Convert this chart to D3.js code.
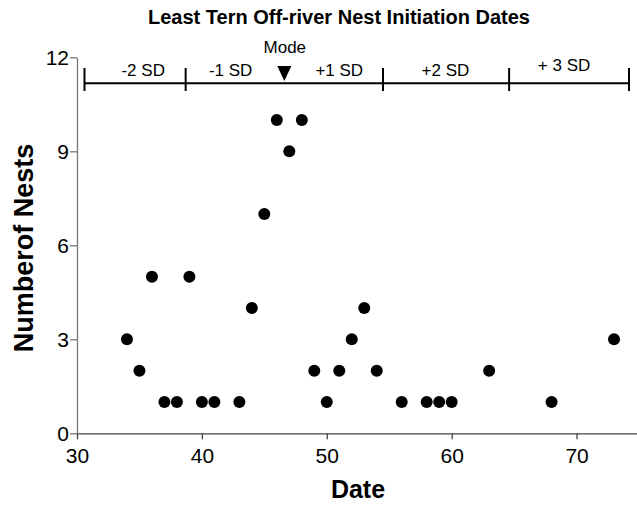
<!DOCTYPE html>
<html><head><meta charset="utf-8">
<script src="https://cdn.jsdelivr.net/npm/d3@7"></script>
<style>body{margin:0;background:#fff}svg{display:block}text{font-family:"Liberation Sans",Arial,sans-serif}</style>
</head><body><svg id="c" width="637" height="506"></svg>
<script>
const dates  = [34,35,36,37,38,39,40,41,43,44,45,46,47,48,49,50,51,52,53,54,56,58,59,60,63,68,73];
const nests  = [3,2,5,1,1,5,1,1,1,4,7,10,9,10,2,1,2,3,4,2,1,1,1,1,2,1,3];
const xTicks = [30,40,50,60,70];
const yTicks = [0,3,6,9,12];
const sdBounds = [30.6,38.7,54.5,64.6,74.2];
const sdLabels = ["-2 SD","-1 SD","+1 SD","+2 SD","+ 3 SD"];
const sdLabelPos = [35.3,42.3,51.0,59.5,69.0];
const modeDate = 46.6;

const svg = d3.select("#c");
const x = d3.scaleLinear().domain([30,75]).range([77,639]);
const y = d3.scaleLinear().domain([0,12]).range([433.3,57.3]);
const FF = "Liberation Sans, Arial, sans-serif";

svg.append("text").attr("x",339).attr("y",24).attr("text-anchor","middle")
  .attr("font-weight","bold").attr("font-size",20).text("Least Tern Off-river Nest Initiation Dates");

const xa = svg.append("g").attr("transform","translate(0,433.3)")
  .call(d3.axisBottom(x).tickValues(xTicks).tickSize(6).tickPadding(2).tickSizeOuter(0));
xa.attr("font-family",FF).attr("font-size",21);
xa.select(".domain").attr("stroke","#444").attr("stroke-width",1.3);
xa.selectAll(".tick line").attr("stroke","#444").attr("stroke-width",1.3);
xa.selectAll("text").attr("fill","#000").attr("dy",null).attr("y",29.5);

const ya = svg.append("g").attr("transform","translate(77,0)")
  .call(d3.axisLeft(y).tickValues(yTicks).tickSize(7).tickPadding(1).tickSizeOuter(0));
ya.attr("font-family",FF).attr("font-size",21);
ya.select(".domain").attr("stroke","#777").attr("stroke-width",1.3);
ya.selectAll(".tick line").attr("stroke","#777").attr("stroke-width",1.3);
ya.selectAll("text").attr("fill","#000").attr("dy","0.36em");

svg.append("g").selectAll("circle").data(dates).join("circle")
  .attr("cx",(d)=>x(d)).attr("cy",(d,i)=>y(nests[i])).attr("r",6).attr("fill","#000");

// SD bar
const sd = svg.append("g");
sd.append("line").attr("x1",x(sdBounds[0])).attr("x2",x(sdBounds[sdBounds.length-1]))
  .attr("y1",83.3).attr("y2",83.3).attr("stroke","#000").attr("stroke-width",2);
sd.selectAll(".sdt").data(sdBounds).join("line")
  .attr("x1",d=>x(d)).attr("x2",d=>x(d)).attr("y1",68).attr("y2",91)
  .attr("stroke","#000").attr("stroke-width",2);
sd.selectAll(".sdl").data(sdLabels).join("text")
  .attr("x",(d,i)=>x(sdLabelPos[i])).attr("y",(d,i)=>i===4?71:76)
  .attr("text-anchor","middle").attr("font-size",17).text(d=>d);
const mx = x(modeDate);
sd.append("path").attr("d",`M${mx-7},66 L${mx+7},66 L${mx},81 Z`).attr("fill","#000");
sd.append("text").attr("x",mx+0.5).attr("y",53).attr("text-anchor","middle").attr("font-size",17).text("Mode");

svg.append("text").attr("x",358).attr("y",498).attr("text-anchor","middle")
  .attr("font-weight","bold").attr("font-size",25).text("Date");
svg.append("text").attr("transform","translate(33,248) rotate(-90)").attr("text-anchor","middle")
  .attr("font-weight","bold").attr("font-size",27).text("Numberof Nests");
</script></body></html>
